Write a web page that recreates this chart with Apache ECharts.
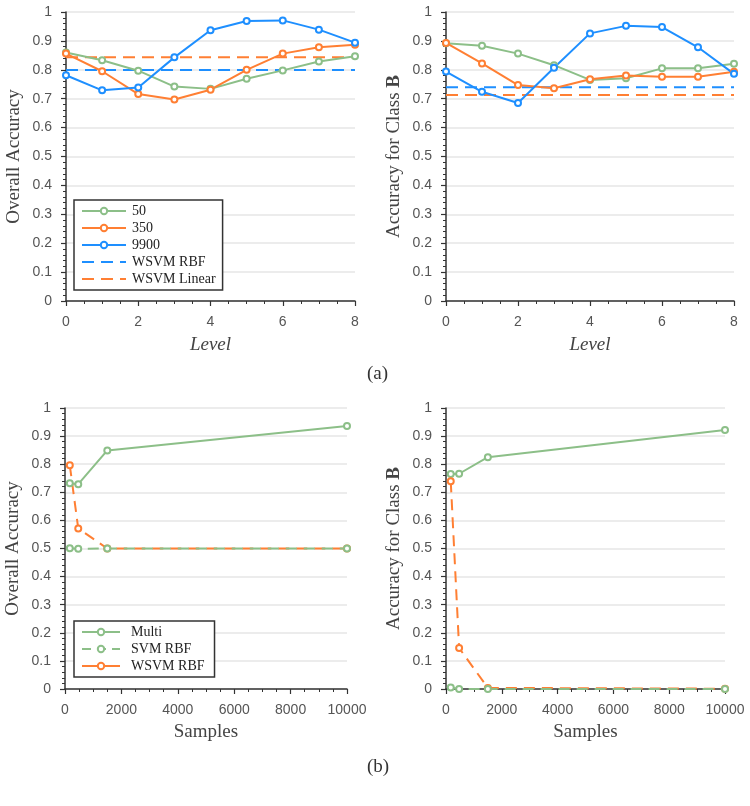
<!DOCTYPE html>
<html>
<head>
<meta charset="utf-8">
<script src="https://cdn.jsdelivr.net/npm/echarts@6/dist/echarts.min.js"></script>
<style>
html,body{margin:0;padding:0;background:#fff;}
#c{width:750px;height:806px;}
</style>
</head>
<body>
<div id="c"></div>
<script>
// ---- data ----
var levels = [0, 1, 2, 3, 4, 5, 6, 7, 8];
var levelRange = [0, 8];
var topL50   = [0.860, 0.833, 0.797, 0.742, 0.734, 0.769, 0.798, 0.829, 0.847];
var topL350  = [0.856, 0.795, 0.716, 0.697, 0.731, 0.800, 0.856, 0.878, 0.887];
var topL9900 = [0.781, 0.729, 0.739, 0.843, 0.937, 0.969, 0.971, 0.939, 0.894];
var topLRbf = 0.799;
var topLLin = 0.843;

var topR50   = [0.892, 0.883, 0.856, 0.816, 0.765, 0.771, 0.805, 0.805, 0.821];
var topR350  = [0.893, 0.822, 0.747, 0.736, 0.767, 0.780, 0.776, 0.776, 0.793];
var topR9900 = [0.794, 0.724, 0.685, 0.807, 0.926, 0.952, 0.948, 0.878, 0.786];
var topRRbf = 0.740;
var topRLin = 0.713;

var samples = [170, 470, 1500, 10000];
var botLMulti = [0.732, 0.729, 0.849, 0.936];
var botLSvm   = [0.501, 0.499, 0.500, 0.500];
var botLWsvm  = [0.796, 0.571, 0.500, 0.500];
var botRMulti = [0.765, 0.766, 0.825, 0.922];
var botRSvm   = [0.005, 0.000, 0.000, 0.000];
var botRWsvm  = [0.739, 0.146, 0.004, 0.001];

var topLegend = ['50', '350', '9900', 'WSVM RBF', 'WSVM Linear'];
var botLegend = ['Multi', 'SVM RBF', 'WSVM RBF'];

// ---- styles ----
var GREEN = '#8cbf88', ORANGE = '#ff7f33', BLUE = '#1e8fff';
var SERIF = '"Liberation Serif","DejaVu Serif",serif';
var SANS = '"Liberation Sans",Arial,sans-serif';

function zip(xs, ys) { return xs.map(function (x, i) { return [x, ys[i]]; }); }
function flat(v) { return levelRange.map(function (x) { return [x, v]; }); }

function lineSeries(name, idx, data, color, dashed) {
  return {
    type: 'line', name: name, xAxisIndex: idx, yAxisIndex: idx,
    data: data, symbol: 'emptyCircle', symbolSize: 6,
    itemStyle: { color: color, borderWidth: 1.5 },
    lineStyle: { color: color, width: 2, type: dashed ? [11, 7] : 'solid' },
    emphasis: { disabled: true }, animation: false, z: 3
  };
}
function refSeries(name, idx, v, color) {
  return {
    type: 'line', name: name, xAxisIndex: idx, yAxisIndex: idx,
    data: flat(v), symbol: 'emptyCircle', showSymbol: false, symbolSize: 6,
    itemStyle: { color: color, borderWidth: 1.5 },
    lineStyle: { color: color, width: 2, type: [12, 7] },
    emphasis: { disabled: true }, animation: false, z: 2
  };
}

function xAx(idx, max, interval, name, italic) {
  return {
    type: 'value', gridIndex: idx, min: 0, max: max, interval: interval,
    name: name, nameLocation: 'middle', nameGap: 34,
    nameTextStyle: { fontFamily: SERIF, fontSize: 19, color: '#444', fontStyle: italic ? 'italic' : 'normal' },
    axisLine: { show: true, onZero: false, lineStyle: { color: '#333', width: 1.5 } },
    axisTick: { show: true, length: 5, lineStyle: { color: '#333', width: 1.2 } },
    minorTick: { show: true, splitNumber: 4, length: 3, lineStyle: { color: '#333', width: 1 } },
    axisLabel: { fontFamily: SANS, fontSize: 14, color: '#555', margin: 14,
      formatter: function (v) { return String(v); } },
    splitLine: { show: false }
  };
}
function yAx(idx, name) {
  return {
    type: 'value', gridIndex: idx, min: 0, max: 1, interval: 0.1,
    name: name, nameLocation: 'middle', nameGap: 42,
    nameTextStyle: { fontFamily: SERIF, fontSize: 19, color: '#444',
      rich: { b: { fontFamily: SERIF, fontSize: 19, color: '#444', fontWeight: 'bold' } } },
    axisLine: { show: true, onZero: false, lineStyle: { color: '#333', width: 1.5 } },
    axisTick: { show: true, length: 5, lineStyle: { color: '#333', width: 1.2 } },
    minorTick: { show: true, splitNumber: 5, length: 3, lineStyle: { color: '#333', width: 1 } },
    axisLabel: { fontFamily: SANS, fontSize: 14, color: '#555', margin: 14,
      formatter: function (v) { return String(Math.round(v * 10) / 10); } },
    splitLine: { show: true, lineStyle: { color: '#e6e6e6', width: 1.5 } }
  };
}

var legendBase = {
  orient: 'vertical', backgroundColor: '#fff', borderColor: '#333', borderWidth: 1.5,
  textStyle: { fontFamily: SERIF, fontSize: 14, color: '#222', lineHeight: 13 },
  itemHeight: 8, selectedMode: false
};

function topLegendItem(name) {
  if (name === 'WSVM RBF') return { name: name, itemStyle: { opacity: 0 }, lineStyle: { color: BLUE, type: [12, 7] } };
  if (name === 'WSVM Linear') return { name: name, itemStyle: { opacity: 0 }, lineStyle: { color: ORANGE, type: [12, 7] } };
  return { name: name };
}
function botLegendItem(name) {
  if (name === 'WSVM RBF') return { name: name, itemStyle: { color: ORANGE, borderColor: ORANGE, opacity: 1 }, lineStyle: { color: ORANGE, type: 'solid' } };
  if (name === 'SVM RBF') return { name: name, itemStyle: { color: GREEN, borderColor: GREEN }, lineStyle: { color: GREEN, type: [9, 6] } };
  return { name: name, itemStyle: { color: GREEN, borderColor: GREEN }, lineStyle: { color: GREEN } };
}

var option = {
  animation: false,
  backgroundColor: '#fff',
  grid: [
    { left: 66, top: 12, width: 289, height: 289 },
    { left: 446, top: 12, width: 288, height: 289 },
    { left: 65, top: 408, width: 282, height: 281 },
    { left: 446, top: 408, width: 279, height: 281 }
  ],
  xAxis: [
    xAx(0, 8, 2, 'Level', true),
    xAx(1, 8, 2, 'Level', true),
    xAx(2, 10000, 2000, 'Samples', false),
    xAx(3, 10000, 2000, 'Samples', false)
  ],
  yAxis: [
    yAx(0, 'Overall Accuracy'),
    yAx(1, 'Accuracy for Class {b|B}'),
    yAx(2, 'Overall Accuracy'),
    yAx(3, 'Accuracy for Class {b|B}')
  ],
  legend: [
    Object.assign({}, legendBase, {
      data: topLegend.map(topLegendItem), left: 74, top: 200, padding: [4, 7, 4, 7],
      itemWidth: 44, itemGap: 3, textStyle: Object.assign({}, legendBase.textStyle, { padding: [0, 0, 0, 1] })
    }),
    Object.assign({}, legendBase, {
      data: botLegend.map(botLegendItem), left: 74, top: 621, padding: [4, 10, 4, 7],
      itemWidth: 38, itemGap: 3, textStyle: Object.assign({}, legendBase.textStyle, { padding: [0, 0, 0, 6] })
    })
  ],
  graphic: [
    { type: 'text', left: 367, top: 365, style: { text: '(a)', font: '19px ' + SERIF, fill: '#333' } },
    { type: 'text', left: 367, top: 758, style: { text: '(b)', font: '19px ' + SERIF, fill: '#333' } }
  ],
  series: [
    refSeries('WSVM RBF', 0, topLRbf, BLUE),
    refSeries('WSVM Linear', 0, topLLin, ORANGE),
    lineSeries('50', 0, zip(levels, topL50), GREEN, false),
    lineSeries('350', 0, zip(levels, topL350), ORANGE, false),
    lineSeries('9900', 0, zip(levels, topL9900), BLUE, false),

    refSeries('WSVM RBF', 1, topRRbf, BLUE),
    refSeries('WSVM Linear', 1, topRLin, ORANGE),
    lineSeries('50', 1, zip(levels, topR50), GREEN, false),
    lineSeries('350', 1, zip(levels, topR350), ORANGE, false),
    lineSeries('9900', 1, zip(levels, topR9900), BLUE, false),

    lineSeries('Multi', 2, zip(samples, botLMulti), GREEN, false),
    lineSeries('WSVM RBF', 2, zip(samples, botLWsvm), ORANGE, true),
    lineSeries('SVM RBF', 2, zip(samples, botLSvm), GREEN, true),

    lineSeries('Multi', 3, zip(samples, botRMulti), GREEN, false),
    lineSeries('WSVM RBF', 3, zip(samples, botRWsvm), ORANGE, true),
    lineSeries('SVM RBF', 3, zip(samples, botRSvm), GREEN, true)
  ]
};

var chart = echarts.init(document.getElementById('c'), null, { renderer: 'canvas' });
chart.setOption(option);
</script>
</body>
</html>
